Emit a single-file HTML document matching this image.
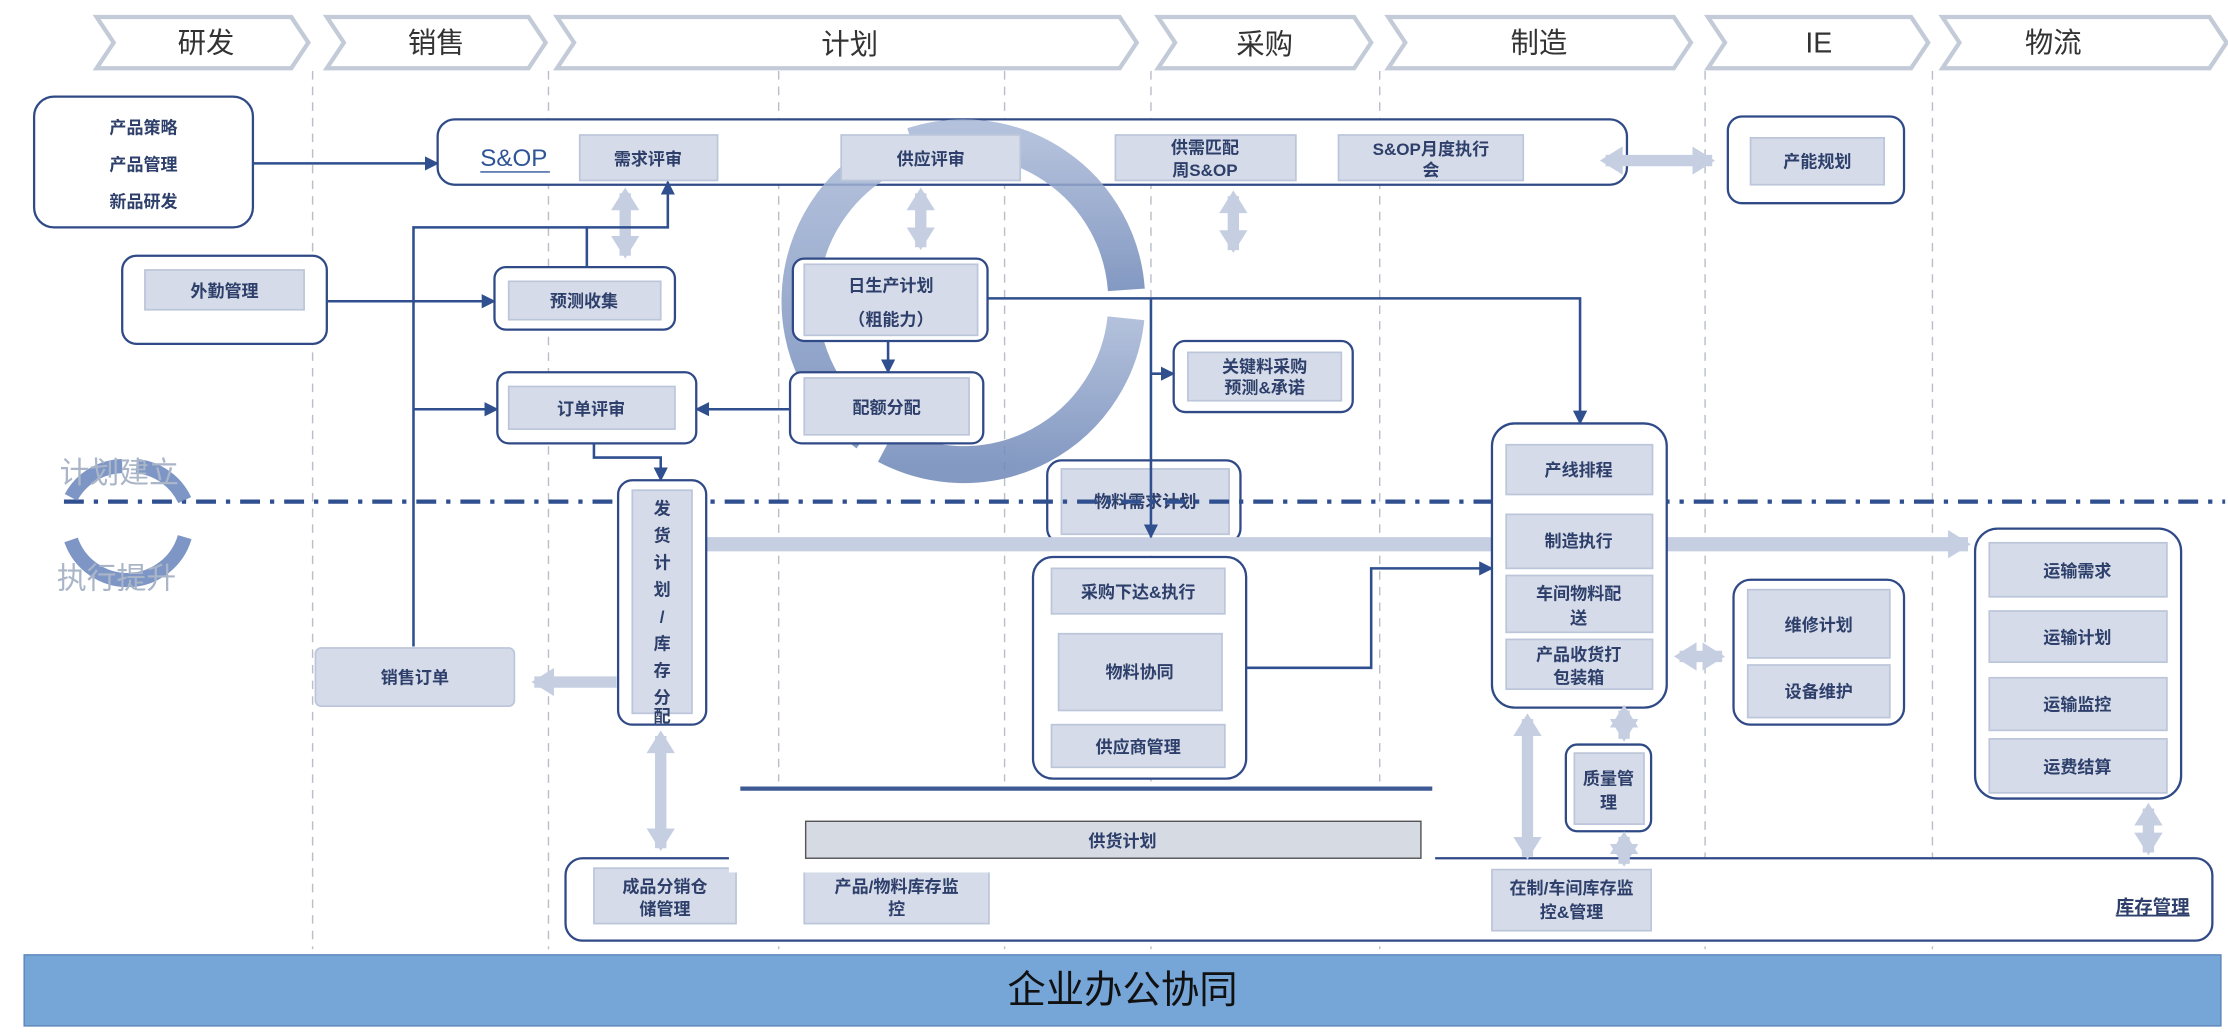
<!DOCTYPE html>
<html><head><meta charset="utf-8">
<style>
html,body{margin:0;padding:0;background:#fff;}
svg{display:block;}
text{font-family:"Liberation Sans","Noto Sans CJK SC",sans-serif;}
.b{fill:#d5dbe8;stroke:#bcc6da;stroke-width:1.2;}
.c{fill:#fff;stroke:#2f4a86;stroke-width:1.6;}
.t{font-size:12px;fill:#2d3f6a;text-anchor:middle;font-weight:bold;}
.h{font-size:20px;fill:#333;text-anchor:middle;}
.ch{fill:#fff;stroke:#c3cad8;stroke-width:3;}
.d{stroke:#b9bec8;stroke-width:1;stroke-dasharray:6 5;}
.k{stroke:#2f4f8f;stroke-width:1.8;fill:none;}
.l{stroke:#c6cfe2;stroke-width:8;fill:none;}
</style></head>
<body>
<svg width="2228" height="1034" viewBox="0 0 1568 727.7" xmlns="http://www.w3.org/2000/svg">
<defs>
<marker id="a" markerUnits="userSpaceOnUse" markerWidth="10" markerHeight="10" refX="9" refY="5" orient="auto"><path d="M0,0 L10,5 L0,10 Z" fill="#2f4f8f"/></marker>
<marker id="la" markerUnits="userSpaceOnUse" markerWidth="18" markerHeight="20" refX="14" refY="10" orient="auto"><path d="M0,0 L16,10 L0,20 Z" fill="#c6cfe2"/></marker>
<marker id="ls" markerUnits="userSpaceOnUse" markerWidth="18" markerHeight="20" refX="4" refY="10" orient="auto"><path d="M16,0 L0,10 L16,20 Z" fill="#c6cfe2"/></marker>
<linearGradient id="rg" x1="0" y1="0" x2="0" y2="1"><stop offset="0" stop-color="#a7b7d6"/><stop offset="1" stop-color="#6f88b8"/></linearGradient>
</defs>
<!-- dashed verticals -->
<g class="d">
<line x1="220" y1="50" x2="220" y2="668"/><line x1="386" y1="50" x2="386" y2="668"/>
<line x1="548" y1="50" x2="548" y2="668"/><line x1="707" y1="50" x2="707" y2="668"/>
<line x1="810" y1="50" x2="810" y2="668"/><line x1="971" y1="50" x2="971" y2="668"/>
<line x1="1200" y1="50" x2="1200" y2="668"/><line x1="1360" y1="50" x2="1360" y2="668"/>
</g>
<!-- header chevrons -->
<g class="ch">
<path d="M68,12 L205,12 L217,30 L205,48 L68,48 L80,30 Z"/>
<path d="M230,12 L372,12 L384,30 L372,48 L230,48 L242,30 Z"/>
<path d="M392,12 L788,12 L800,30 L788,48 L392,48 L404,30 Z"/>
<path d="M815,12 L953,12 L965,30 L953,48 L815,48 L827,30 Z"/>
<path d="M977,12 L1178,12 L1190,30 L1178,48 L977,48 L989,30 Z"/>
<path d="M1202,12 L1345,12 L1357,30 L1345,48 L1202,48 L1214,30 Z"/>
<path d="M1367,12 L1555,12 L1567,30 L1555,48 L1367,48 L1379,30 Z"/>
</g>
<text class="h" x="145" y="37">研发</text><text class="h" x="307" y="37">销售</text>
<text class="h" x="598" y="38">计划</text><text class="h" x="890" y="38">采购</text>
<text class="h" x="1083" y="37">制造</text><text class="h" x="1280" y="37">IE</text>
<text class="h" x="1445" y="37">物流</text>

<!-- S&OP -->
<rect class="c" x="308" y="84" width="837" height="46" rx="12" stroke="#b4bdd0"/>

<!-- big ring -->
<g fill="none" stroke="url(#rg)" stroke-width="26" opacity="0.85">
<path d="M 642.5 102.6 A 115 115 0 0 1 792.7 204"/>
<path d="M 792.4 224 A 115 115 0 0 1 624 313.5"/>
<path d="M 610.4 305 A 115 115 0 0 1 627.6 108.6"/>
</g>

<text x="338" y="117" font-size="17" fill="#2f5597">S&amp;OP</text>
<line x1="338" y1="121" x2="387" y2="121" stroke="#2f5597" stroke-width="1"/>
<rect class="b" x="408" y="95" width="97" height="32"/><text class="t" x="456" y="116">需求评审</text>
<rect class="b" x="592" y="95" width="126" height="32"/><text class="t" x="655" y="116">供应评审</text>
<rect class="b" x="785" y="95" width="127" height="32"/>
<text class="t" x="848" y="108">供需匹配</text><text class="t" x="848" y="124">周S&amp;OP</text>
<rect class="b" x="942" y="95" width="130" height="32"/><text class="t" x="1007" y="109">S&amp;OP月度执行</text><text class="t" x="1007" y="124">会</text>
<rect class="c" x="1216" y="82" width="124" height="61" rx="10"/>
<rect class="b" x="1232" y="97" width="94" height="33"/><text class="t" x="1279" y="118">产能规划</text>
<line class="l" x1="1130" y1="113" x2="1205" y2="113" marker-start="url(#ls)" marker-end="url(#la)"/>

<!-- left containers -->
<rect class="c" x="24" y="68" width="154" height="92" rx="14"/>
<text class="t" x="101" y="94">产品策略</text><text class="t" x="101" y="120">产品管理</text><text class="t" x="101" y="146">新品研发</text>
<rect class="c" x="86" y="180" width="144" height="62" rx="10"/>
<rect class="b" x="102" y="190" width="112" height="28"/><text class="t" x="158" y="209">外勤管理</text>

<rect class="c" x="348" y="188" width="127" height="44" rx="8"/>
<rect class="b" x="358" y="198" width="107" height="27"/><text class="t" x="411" y="216">预测收集</text>
<rect class="c" x="350" y="262" width="140" height="50" rx="8"/>
<rect class="b" x="358" y="272" width="117" height="30"/><text class="t" x="416" y="292">订单评审</text>

<rect class="c" x="558" y="182" width="137" height="58" rx="8"/>
<rect class="b" x="566" y="186" width="122" height="50"/><text class="t" x="627" y="205">日生产计划</text><text class="t" x="627" y="229">（粗能力）</text>
<rect class="c" x="556" y="262" width="136" height="50" rx="8"/>
<rect class="b" x="566" y="266" width="116" height="40"/><text class="t" x="624" y="291">配额分配</text>

<rect class="c" x="826" y="240" width="126" height="50" rx="8"/>
<rect class="b" x="836" y="248" width="108" height="34"/><text class="t" x="890" y="262">关键料采购</text><text class="t" x="890" y="277">预测&amp;承诺</text>

<rect class="c" x="737" y="324" width="136" height="58" rx="10"/>
<rect class="b" x="747" y="330" width="118" height="46"/><text class="t" x="806" y="357">物料需求计划</text>

<rect class="c" x="727" y="392" width="150" height="156" rx="14"/>
<rect class="b" x="740" y="400" width="122" height="32"/><text class="t" x="801" y="421">采购下达&amp;执行</text>
<rect class="b" x="745" y="446" width="115" height="54"/><text class="t" x="802" y="477">物料协同</text>
<rect class="b" x="740" y="510" width="122" height="30"/><text class="t" x="801" y="530">供应商管理</text>

<!-- dash-dot line -->
<line x1="45" y1="353" x2="1566" y2="353" stroke="#2f4f8f" stroke-width="3" stroke-dasharray="14 7 3 7"/>

<!-- big light arrow -->
<line x1="497" y1="383" x2="1385" y2="383" stroke="#c6cfe2" stroke-width="10" marker-end="url(#la)"/>

<!-- 发货计划 -->
<rect class="c" x="435" y="338" width="62" height="172" rx="10"/>
<rect class="b" x="445" y="345" width="42" height="157"/>
<g class="t" font-size="13"><text x="466" y="362">发</text><text x="466" y="381">货</text><text x="466" y="400">计</text><text x="466" y="419">划</text><text x="466" y="438">/</text><text x="466" y="457">库</text><text x="466" y="476">存</text><text x="466" y="495">分</text><text x="466" y="511" dy="-3">配</text></g>

<rect class="b" x="222" y="456" width="140" height="41" rx="4"/><text class="t" x="292" y="481">销售订单</text>
<line class="l" x1="434" y1="480" x2="376" y2="480" marker-end="url(#la)"/>

<!-- left ring -->
<g fill="none" stroke="#6f8bbf" stroke-width="10" opacity="0.9">
<path d="M 50 350 A 42 42 0 0 1 86 328"/><path d="M 96 328 A 42 42 0 0 1 130 352"/>
<path d="M 130 378 A 42 42 0 0 1 50 380"/>
</g>
<text x="42" y="340" font-size="21" fill="#aab5c8">计划建立</text>
<text x="40" y="414" font-size="21" fill="#aab5c8">执行提升</text>

<!-- 制造 -->
<rect class="c" x="1050" y="298" width="123" height="200" rx="16"/>
<rect class="b" x="1060" y="313" width="103" height="35"/><text class="t" x="1111" y="335">产线排程</text>
<rect class="b" x="1060" y="362" width="103" height="38"/><text class="t" x="1111" y="385">制造执行</text>
<rect class="b" x="1060" y="405" width="103" height="40"/><text class="t" x="1111" y="422">车间物料配</text><text class="t" x="1111" y="439">送</text>
<rect class="b" x="1060" y="450" width="103" height="35"/><text class="t" x="1111" y="465">产品收货打</text><text class="t" x="1111" y="481">包装箱</text>

<rect class="c" x="1220" y="408" width="120" height="102" rx="12"/>
<rect class="b" x="1230" y="415" width="100" height="48"/><text class="t" x="1280" y="444">维修计划</text>
<rect class="b" x="1230" y="468" width="100" height="37"/><text class="t" x="1280" y="491">设备维护</text>
<line class="l" x1="1182" y1="462" x2="1212" y2="462" marker-start="url(#ls)" marker-end="url(#la)"/>

<rect class="c" x="1102" y="524" width="60" height="61" rx="8"/>
<rect class="b" x="1108" y="530" width="49" height="50"/><text class="t" x="1132" y="552">质量管</text><text class="t" x="1132" y="569">理</text>

<rect class="c" x="1390" y="372" width="145" height="190" rx="16"/>
<rect class="b" x="1400" y="382" width="125" height="38"/><text class="t" x="1462" y="406">运输需求</text>
<rect class="b" x="1400" y="430" width="125" height="36"/><text class="t" x="1462" y="453">运输计划</text>
<rect class="b" x="1400" y="477" width="125" height="37"/><text class="t" x="1462" y="500">运输监控</text>
<rect class="b" x="1400" y="520" width="125" height="38"/><text class="t" x="1462" y="544">运费结算</text>

<!-- 库存管理 -->
<rect class="c" x="398" y="604" width="1159" height="58" rx="12" stroke="#b4bdd0"/>
<rect class="b" x="418" y="611" width="100" height="39"/><text class="t" x="468" y="628">成品分销仓</text><text class="t" x="468" y="644">储管理</text>
<rect class="b" x="566" y="611" width="130" height="39"/><text class="t" x="631" y="628">产品/物料库存监</text><text class="t" x="631" y="644">控</text>
<rect class="b" x="1050" y="612" width="112" height="43"/><text class="t" x="1106" y="629">在制/车间库存监</text><text class="t" x="1106" y="646">控&amp;管理</text>
<text x="1515" y="643" font-size="13" fill="#2d3f6a" font-weight="bold" text-anchor="middle" text-decoration="underline">库存管理</text>

<!-- white overlay with 供货计划 -->
<rect x="513" y="550" width="497" height="64" fill="#fff"/>
<line x1="521" y1="555" x2="1008" y2="555" stroke="#3e5a95" stroke-width="3"/>
<rect x="567" y="578" width="433" height="26" fill="#d6dae3" stroke="#555" stroke-width="1"/>
<text class="t" x="790" y="596" fill="#222">供货计划</text>

<!-- light double arrows -->
<line class="l" x1="440" y1="136" x2="440" y2="180" marker-start="url(#ls)" marker-end="url(#la)"/>
<line class="l" x1="648" y1="136" x2="648" y2="174" marker-start="url(#ls)" marker-end="url(#la)"/>
<line class="l" x1="868" y1="138" x2="868" y2="176" marker-start="url(#ls)" marker-end="url(#la)"/>
<line class="l" x1="465" y1="518" x2="465" y2="597" marker-start="url(#ls)" marker-end="url(#la)"/>
<line class="l" x1="1075" y1="506" x2="1075" y2="603" marker-start="url(#ls)" marker-end="url(#la)"/>
<line class="l" x1="1143" y1="500" x2="1143" y2="520" marker-start="url(#ls)" marker-end="url(#la)"/>
<line class="l" x1="1143" y1="589" x2="1143" y2="608" marker-start="url(#ls)" marker-end="url(#la)"/>
<line class="l" x1="1512" y1="569" x2="1512" y2="600" marker-start="url(#ls)" marker-end="url(#la)"/>

<!-- dark connectors -->
<g class="k">
<path d="M178,115 L308,115" marker-end="url(#a)"/>
<path d="M230,212 L348,212" marker-end="url(#a)"/>
<path d="M291,455 L291,160 L470,160 L470,128" marker-end="url(#a)"/>
<path d="M413,188 L413,160"/>
<path d="M291,288 L350,288" marker-end="url(#a)"/>
<path d="M556,288 L490,288" marker-end="url(#a)"/>
<path d="M418,312 L418,322 L465,322 L465,338" marker-end="url(#a)"/>
<path d="M625,240 L625,262" marker-end="url(#a)"/>
<path d="M695,210 L1112,210 L1112,298" marker-end="url(#a)"/>
<path d="M810,210 L810,378" marker-end="url(#a)"/>
<path d="M810,263 L826,263" marker-end="url(#a)"/>
<path d="M877,470 L965,470 L965,400 L1050,400" marker-end="url(#a)"/>
</g>

<!-- banner -->
<rect x="17" y="672" width="1546" height="50" fill="#76a5d8" stroke="#5e86bb"/>
<text x="790" y="706" font-size="27" fill="#111" text-anchor="middle">企业办公协同</text>
</svg>
</body></html>
